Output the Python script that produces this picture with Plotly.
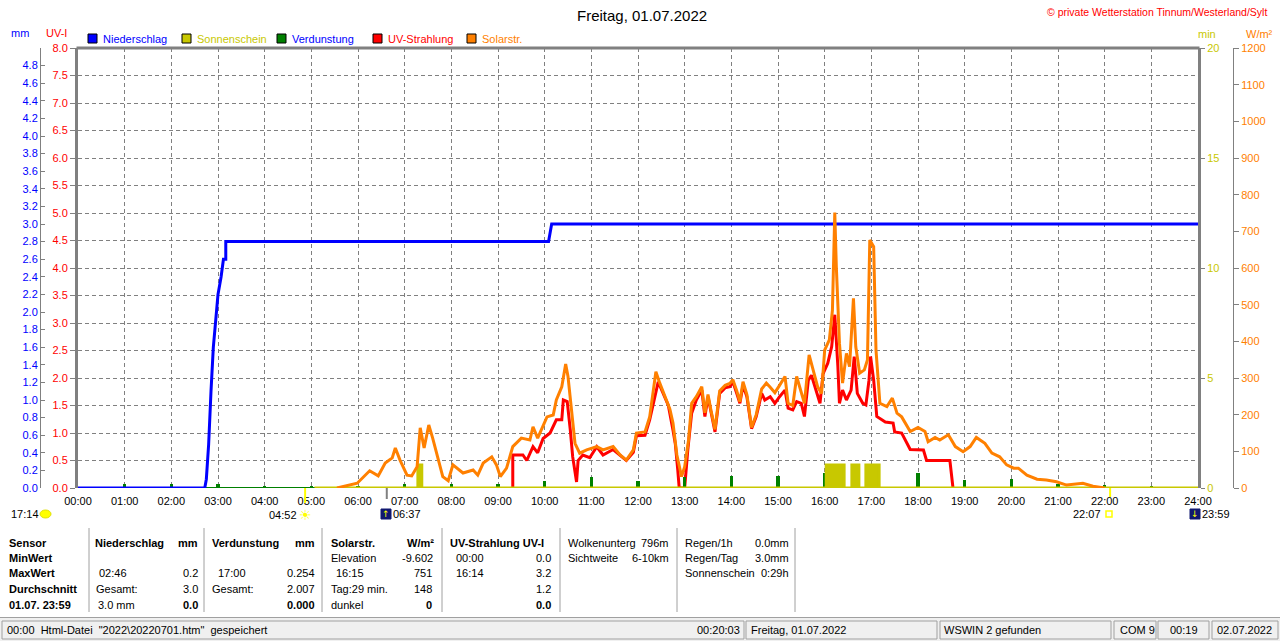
import plotly.graph_objects as go

W, H = 1280, 641
X0, X1, Y0, Y1 = 78, 1198, 48, 488  # plot area (px)
FONT = "Liberation Sans, Arial, sans-serif"
BLUE, RED, ORANGE, GREEN, OLIVE, GRID = "#0000ff", "#ff0000", "#ff8000", "#008000", "#c8c800", "#808080"


def px(x):
    return x / W


def py(y):
    return 1 - y / H


def tmin(s):
    h, m = s.split(":")
    return int(h) * 60 + int(m)


# ---------------- data ----------------
hour_labels = ["%02d:00" % h for h in range(25)]

rain_times = ["00:00", "02:43", "02:45", "02:48", "02:51", "02:54", "02:57", "03:00", "03:04",
              "03:07", "03:10", "03:10", "10:05", "10:09", "24:00"]
rain_mm = [0.0, 0.0, 0.1, 0.5, 1.1, 1.6, 1.9, 2.2, 2.4, 2.6, 2.6, 2.8, 2.8, 3.0, 3.0]

sun_times = ["05:04", "07:17", "07:22", "16:02", "16:25", "16:35", "16:44", "16:53", "17:10", "24:00"]
sun_min = [0, 1.05, 0, 1.05, 0, 1.05, 0, 1.05, 0, 0]

verd_times = ["01:00", "02:00", "03:00", "04:00", "05:00", "06:00", "07:00", "08:00", "09:00", "10:00",
              "11:00", "12:00", "13:00", "14:00", "15:00", "16:00", "17:00", "18:00", "19:00", "20:00",
              "21:00", "22:00", "23:00"]
verd_mm = [0.05, 0.05, 0.05, 0.02, 0.02, 0.02, 0.04, 0.04, 0.04, 0.08, 0.12, 0.08, 0.12, 0.14, 0.14,
           0.17, 0.254, 0.17, 0.09, 0.10, 0.05, 0.03, 0.02]
verd_base_times = ["00:00", "24:00"]
verd_base_mm = [0, 0]

solar_times = ["05:33", "05:59", "06:15", "06:26", "06:35", "06:44", "06:48", "06:54", "07:03", "07:09",
               "07:16", "07:20", "07:25", "07:31", "07:36", "07:41", "07:49", "07:56", "08:02", "08:15",
               "08:28", "08:34", "08:41", "08:52", "08:58", "09:03", "09:11", "09:19", "09:30", "09:41",
               "09:45", "09:51", "10:03", "10:11", "10:15", "10:22", "10:27", "10:30", "10:35", "10:39",
               "10:45", "10:54", "11:07", "11:15", "11:28", "11:37", "11:45", "11:54", "11:58", "12:09",
               "12:15", "12:23", "12:28", "12:35", "12:41", "12:45", "12:50", "12:56", "13:00", "13:05",
               "13:09", "13:15", "13:22", "13:26", "13:30", "13:34", "13:39", "13:45", "13:52", "13:58",
               "14:02", "14:07", "14:11", "14:15", "14:20", "14:26", "14:32", "14:39", "14:45", "14:50",
               "14:56", "15:02", "15:09", "15:13", "15:19", "15:24", "15:30", "15:34", "15:40", "15:45",
               "15:51", "15:56", "16:00", "16:06", "16:10", "16:13", "16:15", "16:19", "16:23", "16:28",
               "16:32", "16:37", "16:40", "16:45", "16:51", "16:55", "16:58", "17:03", "17:06", "17:11",
               "17:20", "17:27", "17:33", "17:39", "17:50", "18:00", "18:09", "18:13", "18:22", "18:28",
               "18:39", "18:48", "18:58", "19:07", "19:15", "19:26", "19:35", "19:45", "19:54", "20:03",
               "20:09", "20:20", "20:33", "20:45", "20:58", "21:11", "21:32", "21:45", "21:54", "22:00"]
solar_wm2 = [0, 13, 47, 33, 68, 82, 109, 76, 35, 33,
             58, 164, 109, 172, 136, 95, 31, 20, 63, 41,
             49, 35, 68, 85, 63, 31, 54, 113, 136, 131,
             167, 136, 194, 199, 240, 276, 338, 304, 194, 122,
             95, 104, 113, 104, 113, 90, 76, 104, 150, 153,
             194, 317, 286, 249, 215, 177, 90, 31, 58, 131,
             231, 249, 276, 205, 255, 210, 160, 265, 280, 285,
             295, 265, 235, 290, 255, 165, 200, 270, 286, 275,
             260, 280, 304, 231, 225, 304, 258, 231, 363, 322,
             276, 258, 376, 404, 485, 751, 603, 395, 286, 367,
             331, 517, 385, 313, 322, 349, 676, 658, 376, 231,
             222, 245, 204, 194, 154, 165, 154, 126, 138, 131,
             145, 113, 99, 113, 138, 122, 95, 85, 63, 54,
             54, 35, 24, 22, 17, 8, 13, 5, 3, 0]

uv_times = ["09:19", "09:19", "09:32", "09:37", "09:45", "09:51", "09:58", "10:07", "10:15", "10:22",
            "10:24", "10:29", "10:33", "10:36", "10:41", "10:43", "10:49", "10:58", "11:07", "11:15",
            "11:28", "11:37", "11:45", "11:54", "11:58", "12:09", "12:15", "12:26", "12:32", "12:39",
            "12:45", "12:48", "12:51", "12:53", "13:00", "13:04", "13:09", "13:15", "13:22", "13:26",
            "13:30", "13:34", "13:39", "13:45", "13:52", "13:58", "14:02", "14:07", "14:11", "14:15",
            "14:20", "14:26", "14:32", "14:39", "14:43", "14:50", "14:56", "15:02", "15:09", "15:13",
            "15:19", "15:24", "15:30", "15:34", "15:39", "15:43", "15:49", "15:54", "15:58", "16:04",
            "16:09", "16:13", "16:17", "16:19", "16:23", "16:28", "16:34", "16:38", "16:42", "16:49",
            "16:53", "16:57", "16:59", "17:03", "17:07", "17:18", "17:28", "17:30", "17:39", "17:45",
            "17:50", "18:07", "18:11", "18:41", "18:45"]
uv_index = [0, 0.6, 0.6, 0.5, 0.75, 0.64, 0.9, 1.0, 1.24, 1.24,
            1.6, 1.57, 1.05, 0.57, 0.11, 0.5, 0.6, 0.55, 0.75, 0.6,
            0.7, 0.6, 0.5, 0.65, 0.95, 0.96, 1.24, 1.93, 1.72, 1.5,
            1.05, 0.8, 0.35, 0.0, 0.0, 0.69, 1.36, 1.6, 1.78, 1.3,
            1.66, 1.36, 1.02, 1.72, 1.82, 1.84, 1.93, 1.72, 1.54, 1.87,
            1.66, 1.08, 1.3, 1.72, 1.6, 1.66, 1.54, 1.66, 1.78, 1.45,
            1.42, 1.57, 1.54, 1.3, 1.96, 2.05, 1.78, 1.54, 2.08, 2.27,
            2.57, 3.15, 2.2, 1.54, 1.78, 1.6, 1.78, 2.39, 1.72, 1.54,
            1.51, 1.96, 2.39, 1.96, 1.3, 1.2, 1.18, 1.02, 1.0, 0.82,
            0.7, 0.69, 0.5, 0.5, 0.0]

uv_ticks = [0, 0.5, 1, 1.5, 2, 2.5, 3, 3.5, 4, 4.5, 5, 5.5, 6, 6.5, 7, 7.5, 8]
mm_ticks = [0, 0.2, 0.4, 0.6, 0.8, 1.0, 1.2, 1.4, 1.6, 1.8, 2.0, 2.2, 2.4, 2.6, 2.8, 3.0, 3.2, 3.4,
            3.6, 3.8, 4.0, 4.2, 4.4, 4.6, 4.8]
min_ticks = [0, 5, 10, 15, 20]
wm2_ticks = [0, 100, 200, 300, 400, 500, 600, 700, 800, 900, 1000, 1100, 1200]

# ---------------- traces ----------------
fig = go.Figure()
fig.add_trace(go.Scatter(x=[tmin(t) for t in sun_times], y=sun_min, mode="lines", yaxis="y3",
                         line=dict(shape="hv", color=OLIVE, width=3), fill="tozeroy", fillcolor=OLIVE,
                         name="Sonnenschein", hoverinfo="skip"))
fig.add_trace(go.Scatter(x=[tmin(t) for t in verd_base_times], y=verd_base_mm, mode="lines", yaxis="y2",
                         line=dict(color=GREEN, width=2), hoverinfo="skip"))
fig.add_trace(go.Bar(x=[tmin(t) for t in verd_times], y=verd_mm, width=4, yaxis="y2",
                     marker=dict(color=GREEN, line=dict(width=0)), name="Verdunstung"))
fig.add_trace(go.Scatter(x=[tmin(t) for t in solar_times], y=solar_wm2, mode="lines", yaxis="y4",
                         line=dict(color=ORANGE, width=3), name="Solarstr."))
fig.add_trace(go.Scatter(x=[tmin(t) for t in uv_times], y=uv_index, mode="lines", yaxis="y",
                         line=dict(color=RED, width=3), name="UV-Strahlung"))
fig.add_trace(go.Scatter(x=[tmin(t) for t in rain_times], y=rain_mm, mode="lines", yaxis="y2",
                         line=dict(color=BLUE, width=3), name="Niederschlag"))

ydom = [py(Y1), py(Y0)]
axfont = dict(family=FONT, size=11)

fig.update_layout(
    template="none",
    width=W, height=H, margin=dict(l=0, r=0, t=0, b=0),
    paper_bgcolor="white", plot_bgcolor="white", showlegend=False,
    font=dict(family=FONT, size=11, color="black"),
    bargap=0,
    xaxis=dict(domain=[px(X0), px(X1)], range=[0, 1440], tickmode="array",
               tickvals=[tmin(s) for s in hour_labels], ticktext=hour_labels,
               showgrid=True, gridcolor=GRID, griddash="4px,3px", gridwidth=1,
               zeroline=False, showline=False, ticks="outside", ticklen=3, tickcolor="rgba(0,0,0,0)",
               tickfont=dict(family=FONT, size=11, color="black"), automargin=False, fixedrange=True),
    yaxis=dict(domain=ydom, range=[0, 8], tickmode="array", tickvals=uv_ticks, tickformat=".1f",
               tickfont=dict(axfont, color=RED), ticks="outside", ticklen=5, tickcolor=GRID,
               showline=True, linecolor=GRID, linewidth=3, showgrid=True, gridcolor=GRID,
               griddash="4px,3px", gridwidth=1, zeroline=False, automargin=False, fixedrange=True),
    yaxis2=dict(overlaying="y", anchor="free", position=px(40), side="left", range=[0, 5],
                tickmode="array", tickvals=mm_ticks, tickformat=".1f", tickfont=dict(axfont, color=BLUE),
                ticks="inside", ticklen=4, tickcolor=GRID, showline=True, linecolor=GRID, linewidth=1,
                showgrid=False, zeroline=False, automargin=False, fixedrange=True),
    yaxis3=dict(overlaying="y", anchor="x", side="right", range=[0, 20], tickmode="array",
                tickvals=min_ticks, tickfont=dict(axfont, color=OLIVE), ticks="outside", ticklen=4,
                tickcolor=GRID, showline=True, linecolor=GRID, linewidth=3, showgrid=False,
                zeroline=False, automargin=False, fixedrange=True),
    yaxis4=dict(overlaying="y", anchor="free", position=px(1233), side="right", range=[0, 1200],
                tickmode="array", tickvals=wm2_ticks, tickfont=dict(axfont, color=ORANGE),
                ticks="outside", ticklen=5, tickcolor=GRID, showline=True, linecolor=GRID, linewidth=1,
                showgrid=False, zeroline=False, automargin=False, fixedrange=True),
)

ann = []
shapes = []


def txt(x, y, s, color="black", size=11, anchor="left", bold=False, family=FONT):
    ann.append(dict(x=px(x), y=py(y), xref="paper", yref="paper", text=("<b>%s</b>" % s) if bold else s,
                    showarrow=False, xanchor=anchor, yanchor="middle", borderpad=0,
                    font=dict(family=family, size=size, color=color)))


def line(x0, y0, x1, y1, color=GRID, width=1):
    shapes.append(dict(type="line", xref="paper", yref="paper", x0=px(x0), y0=py(y0), x1=px(x1), y1=py(y1),
                       line=dict(color=color, width=width)))


def rect(x0, y0, x1, y1, fill, lc="black", lw=1):
    shapes.append(dict(type="rect", xref="paper", yref="paper", x0=px(x0), y0=py(y0), x1=px(x1), y1=py(y1),
                       fillcolor=fill, line=dict(color=lc, width=lw)))


# frame top
line(X0 - 1.5, Y0, X1 + 1.5, Y0, GRID, 3)

# title & header texts
txt(642, 15, "Freitag, 01.07.2022", size=15, anchor="center")
txt(1268, 12, "© private Wetterstation Tinnum/Westerland/Sylt", color=RED, size=10.5, anchor="right")
txt(20, 33, "mm", color=BLUE, anchor="center")
txt(56, 33, "UV-I", color=RED, anchor="center")
txt(1207, 34, "min", color=OLIVE, anchor="center")
txt(1259, 34, "W/m²", color=ORANGE, anchor="center")

# legend
legend_items = [("Niederschlag", BLUE, BLUE, 88), ("Sonnenschein", OLIVE, OLIVE, 182),
                ("Verdunstung", GREEN, BLUE, 277), ("UV-Strahlung", RED, RED, 373),
                ("Solarstr.", ORANGE, ORANGE, 467)]
for label, sq, tc, lx in legend_items:
    rect(lx, 34, lx + 9, 43, sq)
    txt(lx + 14, 38.5, label, color=tc)

# astro markers below axis
astro_ticks = [("04:52", "#ffff00", 503, 2), ("06:37", GRID, 499, 2), ("22:07", "#ffff00", 497, 2)]
for t, c, yb, w in astro_ticks:
    shapes.append(dict(type="line", xref="x", yref="paper", x0=tmin(t), x1=tmin(t), y0=py(Y1), y1=py(yb),
                       line=dict(color=c, width=w)))
txt(10, 514, "17:14")
shapes.append(dict(type="circle", xref="paper", yref="paper", x0=px(40), x1=px(51), y0=py(518), y1=py(510),
                   fillcolor="#ffff00", line=dict(color="#e0e000", width=1)))
txt(298, 515, "04:52", anchor="right")
txt(305, 515, "☀", color="#ffff00", size=14, anchor="center", family="DejaVu Sans")
rect(381, 509, 391, 519, "#101870", lc="#101870")
txt(386, 514, "↑", color="#ffff00", size=9, anchor="center", family="DejaVu Sans")
txt(392, 514, "06:37")
txt(1102, 514, "22:07", anchor="right")
rect(1106, 511, 1112, 517, "white", lc="#ffff00", lw=1.5)
rect(1190, 509, 1200, 519, "#101870", lc="#101870")
txt(1195, 514, "↓", color="#ffff00", size=9, anchor="center", family="DejaVu Sans")
txt(1201, 514, "23:59")

# table
rows = [543, 558, 573, 589, 605]
for sx in [89, 204, 322, 442, 560, 677, 795]:
    line(sx, 528, sx, 612, "#a0a0a0", 1)

for r, s in zip(rows, ["Sensor", "MinWert", "MaxWert", "Durchschnitt", "01.07. 23:59"]):
    txt(8, r, s, bold=True)

txt(94, rows[0], "Niederschlag", bold=True)
txt(199, rows[0], "mm", bold=True, anchor="right")
txt(98, rows[2], "02:46")
txt(199, rows[2], "0.2", anchor="right")
txt(95, rows[3], "Gesamt:")
txt(199, rows[3], "3.0", anchor="right")
txt(97, rows[4], "3.0 mm")
txt(199, rows[4], "0.0", bold=True, anchor="right")

txt(211, rows[0], "Verdunstung", bold=True)
txt(316, rows[0], "mm", bold=True, anchor="right")
txt(217, rows[2], "17:00")
txt(316, rows[2], "0.254", anchor="right")
txt(211, rows[3], "Gesamt:")
txt(316, rows[3], "2.007", anchor="right")
txt(316, rows[4], "0.000", bold=True, anchor="right")

txt(330, rows[0], "Solarstr.", bold=True)
txt(435, rows[0], "W/m²", bold=True, anchor="right")
txt(330, rows[1], "Elevation")
txt(434, rows[1], "-9.602", anchor="right")
txt(335, rows[2], "16:15")
txt(433, rows[2], "751", anchor="right")
txt(330, rows[3], "Tag:29 min.")
txt(433, rows[3], "148", anchor="right")
txt(330, rows[4], "dunkel")
txt(433, rows[4], "0", bold=True, anchor="right")

txt(449, rows[0], "UV-Strahlung UV-I", bold=True)
txt(455, rows[1], "00:00")
txt(552, rows[1], "0.0", anchor="right")
txt(455, rows[2], "16:14")
txt(552, rows[2], "3.2", anchor="right")
txt(552, rows[3], "1.2", anchor="right")
txt(552, rows[4], "0.0", bold=True, anchor="right")

txt(567, rows[0], "Wolkenunterg")
txt(670, rows[0], "796m", anchor="right")
txt(567, rows[1], "Sichtweite")
txt(670, rows[1], "6-10km", anchor="right")

txt(684, rows[0], "Regen/1h")
txt(790, rows[0], "0.0mm", anchor="right")
txt(684, rows[1], "Regen/Tag")
txt(790, rows[1], "3.0mm", anchor="right")
txt(684, rows[2], "Sonnenschein")
txt(790, rows[2], "0:29h", anchor="right")

# status bar
rect(0, 617, 1280, 641, "#f0f0f0", lc="#f0f0f0", lw=0)
line(0, 617.5, 1280, 617.5, "#a0a0a0", 1)
for x0, x1 in [(2, 744), (746, 937), (940, 1111), (1114, 1156), (1158, 1209), (1212, 1278)]:
    rect(x0, 621, x1, 639, "#f0f0f0", lc="#a0a0a0", lw=1)
txt(6, 630, "00:00\u00a0 Html-Datei\u00a0 \"2022\\20220701.htm\"\u00a0 gespeichert")
txt(741, 630, "00:20:03", anchor="right")
txt(750, 630, "Freitag, 01.07.2022")
txt(943, 630, "WSWIN 2 gefunden")
txt(1119, 630, "COM 9")
txt(1184, 630, "00:19", anchor="center")
txt(1216, 630, "02.07.2022")

fig.update_layout(annotations=ann, shapes=shapes)
fig.write_html("out.html", config={"displayModeBar": False, "staticPlot": True},
               post_script="document.body.style.margin='0px';document.body.style.padding='0px';"
                           "document.body.style.overflow='hidden';")
